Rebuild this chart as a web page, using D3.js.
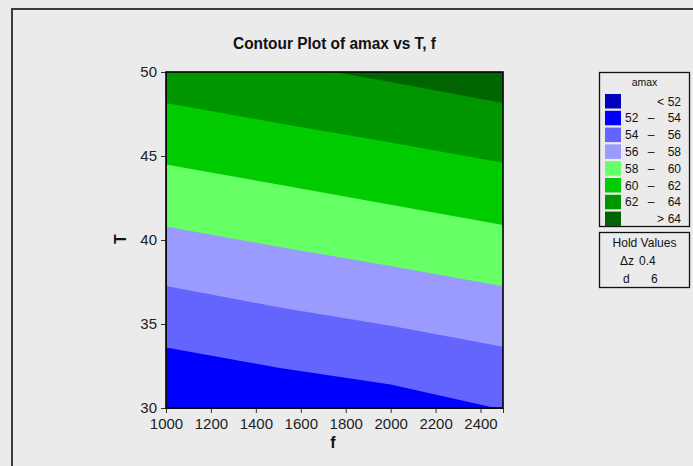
<!DOCTYPE html>
<html>
<head>
<meta charset="utf-8">
<script src="https://cdn.jsdelivr.net/npm/d3@7"></script>
<style>
  html, body { margin: 0; padding: 0; background: #EBEBEB; }
  svg { display: block; }
  text { font-family: "Liberation Sans", Arial, sans-serif; }
</style>
</head>
<body>
<svg id="chart" width="693" height="466"></svg>
<script>
// ---- data ----
const fGrid = [1000, 1500, 2000, 2500];              // f positions where boundaries were read
const contourLevels = [54, 56, 58, 60, 62, 64];       // amax contour levels
// T value of each contour line at the fGrid positions
const boundaryT = [
  [33.6, 32.4, 31.4, 29.9],    // amax = 54
  [37.26, 36.0, 34.9, 33.65],  // amax = 56
  [40.8, 39.6, 38.45, 37.25],  // amax = 58
  [44.5, 43.3, 42.1, 40.9],    // amax = 60
  [48.15, 46.95, 45.8, 44.6],  // amax = 62
  [51.8, 50.6, 49.4, 48.15]    // amax = 64
];
const legendLabels = [["<", "52"], ["52", "54"], ["54", "56"], ["56", "58"], ["58", "60"], ["60", "62"], ["62", "64"], [">", "64"]];
const bandColors = ["#0000BE", "#0000FF", "#6464FF", "#9B9BFF", "#66FF66", "#00CC00", "#009600", "#006400"];
const xTicks = [1000, 1200, 1400, 1600, 1800, 2000, 2200, 2400];
const yTicks = [30, 35, 40, 45, 50];
const holdValues = [["Δz", "0.4"], ["d", "6"]];

// ---- drawing ----
const svg = d3.select("#chart");
const W = 693, H = 466;
svg.append("rect").attr("width", W).attr("height", H).attr("fill", "#EBEBEB");

// outer frame (top-left visible)
svg.append("path")
  .attr("d", `M12,${H + 5} L12,9 L${W + 5},9`)
  .attr("fill", "none").attr("stroke", "#3c3c3c").attr("stroke-width", 2);

const x = d3.scaleLinear().domain([1000, 2500]).range([166, 503]);
const y = d3.scaleLinear().domain([30, 50]).range([408, 72]);

svg.append("defs").append("clipPath").attr("id", "plotclip")
  .append("rect").attr("x", x(1000)).attr("y", y(50))
  .attr("width", x(2500) - x(1000)).attr("height", y(30) - y(50));

const plot = svg.append("g").attr("clip-path", "url(#plotclip)");

// lowest band fills everything
plot.append("rect").attr("x", x(1000)).attr("y", y(50))
  .attr("width", x(2500) - x(1000)).attr("height", y(30) - y(50))
  .attr("fill", bandColors[1]);

const area = d3.area()
  .x(d => x(d[0]))
  .y0(d => y(d[1]))
  .y1(() => y(56))
  .curve(d3.curveLinear);

contourLevels.forEach((lev, i) => {
  const pts = fGrid.map((f, j) => [f, boundaryT[i][j]]);
  plot.append("path")
    .attr("d", area(pts))
    .attr("fill", bandColors[i + 2])
    .attr("stroke", "none");
});

// axes
const xAxis = d3.axisBottom(x).tickValues(xTicks).tickSize(5).tickPadding(5).tickFormat(d3.format("d"));
const yAxis = d3.axisLeft(y).tickValues(yTicks).tickSize(5).tickPadding(4);

const gx = svg.append("g").attr("transform", `translate(0,${y(30)})`).call(xAxis);
const gy = svg.append("g").attr("transform", `translate(${x(1000)},0)`).call(yAxis);
[gx, gy].forEach(g => {
  g.select(".domain").attr("stroke", "#333");
  g.selectAll(".tick line").attr("stroke", "#333");
  g.selectAll(".tick text").attr("font-size", 15).attr("fill", "#222")
    .attr("font-family", "'Liberation Sans', Arial, sans-serif");
});

// plot frame
svg.append("rect").attr("x", x(1000)).attr("y", y(50))
  .attr("width", x(2500) - x(1000)).attr("height", y(30) - y(50))
  .attr("fill", "none").attr("stroke", "#000").attr("stroke-width", 1.6);

// title and axis labels
svg.append("text").attr("x", 334.5).attr("y", 49).attr("text-anchor", "middle")
  .attr("font-size", 16).attr("font-weight", "bold").attr("fill", "#111")
  .attr("textLength", 203).attr("lengthAdjust", "spacingAndGlyphs")
  .text("Contour Plot of amax vs T, f");

svg.append("text").attr("x", 333).attr("y", 448).attr("text-anchor", "middle")
  .attr("font-size", 16).attr("font-weight", "bold").attr("fill", "#111").text("f");

svg.append("text").attr("transform", "translate(126,239) rotate(-90)")
  .attr("text-anchor", "middle").attr("font-size", 16).attr("font-weight", "bold")
  .attr("fill", "#111").text("T");

// legend
const lg = svg.append("g");
lg.append("rect").attr("x", 599.5).attr("y", 72.5).attr("width", 90).attr("height", 154)
  .attr("fill", "#EBEBEB").attr("stroke", "#111").attr("stroke-width", 1.3);
lg.append("text").attr("x", 644.5).attr("y", 86).attr("text-anchor", "middle")
  .attr("font-size", 10.5).attr("fill", "#111").text("amax");

legendLabels.forEach((lab, i) => {
  const top = 94 + i * 16.8;
  lg.append("rect").attr("x", 605).attr("y", top).attr("width", 16).attr("height", 14.5)
    .attr("fill", bandColors[i]);
  const base = top + 11.5;
  if (lab[0] === "<" || lab[0] === ">") {
    lg.append("text").attr("x", 664).attr("y", base).attr("text-anchor", "end")
      .attr("font-size", 12).attr("fill", "#111").text(lab[0]);
  } else {
    lg.append("text").attr("x", 625).attr("y", base)
      .attr("font-size", 12).attr("fill", "#111").text(lab[0]);
    lg.append("text").attr("x", 651).attr("y", base).attr("text-anchor", "middle")
      .attr("font-size", 12).attr("fill", "#111").text("–");
  }
  lg.append("text").attr("x", 681).attr("y", base).attr("text-anchor", "end")
    .attr("font-size", 12).attr("fill", "#111").text(lab[1]);
});

// hold values box
const hv = svg.append("g");
hv.append("rect").attr("x", 599.5).attr("y", 232.5).attr("width", 90).attr("height", 55)
  .attr("fill", "#EBEBEB").attr("stroke", "#111").attr("stroke-width", 1.3);
hv.append("text").attr("x", 644.5).attr("y", 247).attr("text-anchor", "middle")
  .attr("font-size", 12).attr("fill", "#111").text("Hold Values");
holdValues.forEach((h, i) => {
  const base = 265 + i * 17.5;
  hv.append("text").attr("x", 620 + (i === 1 ? 3 : 0)).attr("y", base)
    .attr("font-size", 12).attr("fill", "#111").text(h[0]);
  hv.append("text").attr("x", i === 0 ? 639 : 651).attr("y", base)
    .attr("font-size", 12).attr("fill", "#111").text(h[1]);
});
</script>
</body>
</html>
